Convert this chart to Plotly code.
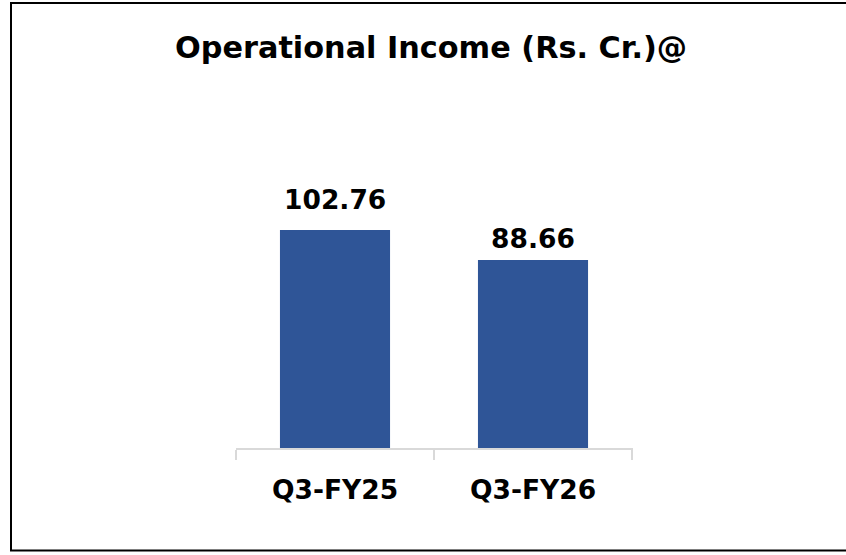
import plotly.graph_objects as go

categories = ["Q3-FY25", "Q3-FY26"]
values = [102.76, 88.66]
value_labels = ["102.76", "88.66"]
title_text = "Operational Income (Rs. Cr.)@"

W, H = 846, 555
FONT = "DejaVu Sans"
BAR_COLOR = "#2F5597"

fig = go.Figure()
fig.add_trace(go.Bar(
    x=categories, y=values, marker=dict(color=BAR_COLOR, line=dict(width=0)),
    hoverinfo="skip",
))

label_shift = [13, 4]
for c, v, t, s in zip(categories, values, value_labels, label_shift):
    fig.add_annotation(x=c, y=v, text="<b>%s</b>" % t, showarrow=False,
                       yanchor="bottom", yshift=s,
                       font=dict(family=FONT, size=26.5, color="black"))

fig.add_annotation(xref="paper", yref="paper", x=431 / W, y=1 - 47 / H,
                   text="<b>%s</b>" % title_text, showarrow=False,
                   xanchor="center", yanchor="middle",
                   font=dict(family=FONT, size=30.3, color="black"))

fig.add_shape(type="rect", xref="paper", yref="paper",
              x0=11 / W, x1=1.02, y0=1 - 550.5 / H, y1=1 - 3 / H,
              line=dict(color="black", width=2), fillcolor="rgba(0,0,0,0)")

fig.update_layout(
    width=W, height=H,
    margin=dict(l=0, r=0, t=0, b=0),
    paper_bgcolor="white", plot_bgcolor="white",
    showlegend=False, bargap=0.444,
    xaxis=dict(domain=[236 / W, 633 / W], range=[-0.5, 1.505],
               showline=True, linecolor="#D9D9D9",
               linewidth=2, ticks="outside", tickson="boundaries", ticklen=10,
               tickcolor="#D9D9D9", tickwidth=2, showgrid=False,
               tickfont=dict(family=FONT, size=26.5, color="black"),
               tickprefix="<b>", ticksuffix="</b>", ticklabelstandoff=17),
    yaxis=dict(domain=[1 - 448 / H, 1 - 150 / H], range=[0, 140.5],
               visible=False, showgrid=False, zeroline=False),
)

fig.write_html("out.html", config=dict(displayModeBar=False, staticPlot=True),
               post_script="document.body.style.margin='0';document.body.style.overflow='hidden';")
